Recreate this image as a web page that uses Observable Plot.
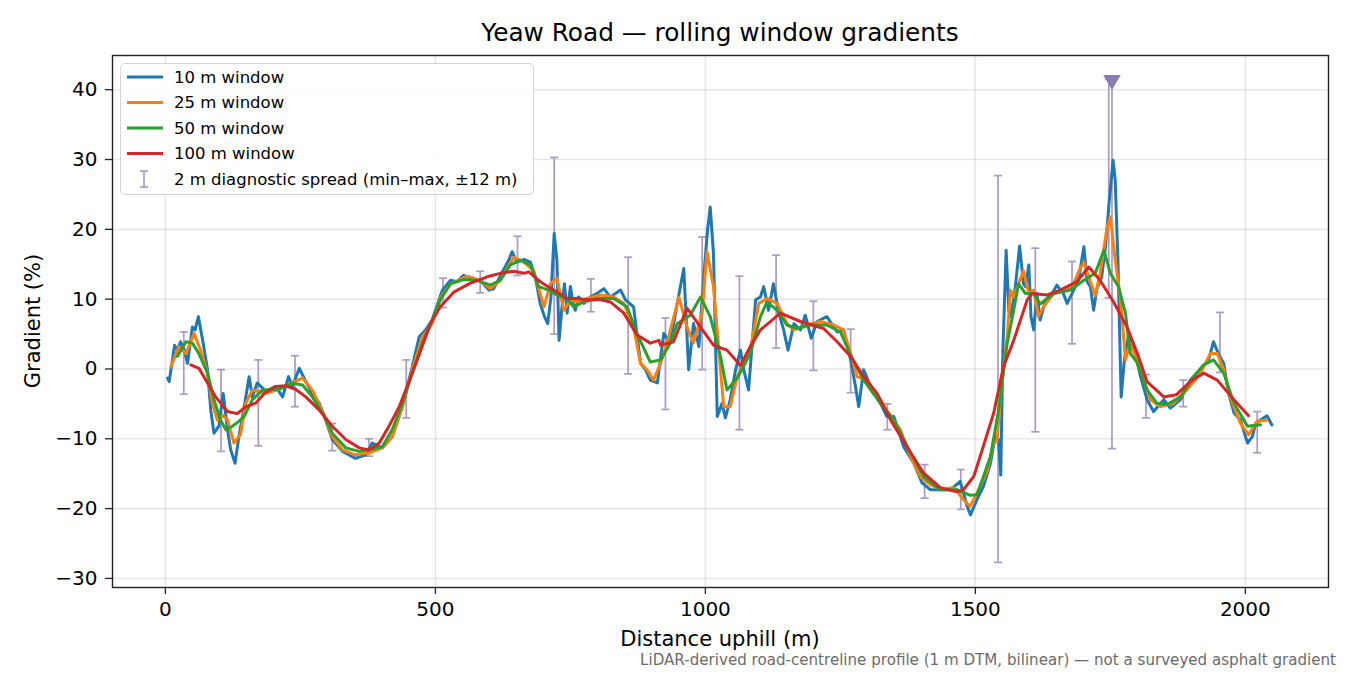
<!DOCTYPE html>
<html>
<head>
<meta charset="utf-8">
<script src="https://cdn.jsdelivr.net/npm/d3@7"></script>
<script src="https://cdn.jsdelivr.net/npm/@observablehq/plot@0.6"></script>
<style>
  html, body { margin: 0; padding: 0; background: #fff; }
  #wrap { position: relative; width: 1350px; height: 675px; font-family: "DejaVu Sans", sans-serif; color: #000; overflow: hidden; }
  #chart svg { position: absolute; left: 0; top: 0; }
  .abs { position: absolute; white-space: nowrap; }
  #title { left: 112px; width: 1216px; text-align: center; top: 19px; font-size: 24.8px; line-height: 28px; }
  #xlabel { left: 112px; width: 1216px; text-align: center; top: 627px; font-size: 21px; line-height: 24px; }
  #ylabel { left: 33px; top: 321px; font-size: 21px; line-height: 24px; transform: translate(-50%, -50%) rotate(-90deg); }
  #caption { right: 14px; top: 651px; font-size: 15.1px; line-height: 18px; color: #6b6b6b; }
  #legend { left: 120px; top: 63px; width: 412px; height: 130px; border: 1.5px solid #d4d4d4; border-radius: 5px; background: rgba(255,255,255,0.85); }
  #legend svg { position: absolute; left: 0; top: 0; }
</style>
</head>
<body>
<div id="wrap">
  <div id="chart"></div>
  <div id="title" class="abs">Yeaw Road — rolling window gradients</div>
  <div id="xlabel" class="abs">Distance uphill (m)</div>
  <div id="ylabel" class="abs">Gradient (%)</div>
  <div id="caption" class="abs">LiDAR-derived road-centreline profile (1 m DTM, bilinear) — not a surveyed asphalt gradient</div>
  <div id="legend" class="abs"></div>
</div>
<script>
// ---- data: [distance (m), gradient (%)] ----
const w10 = [[4,-1.3],[7,-1.8],[13,1.3],[17,3.4],[22,2.7],[28,3.9],[35,2.7],[41,0.8],[50,6.0],[55,5.6],[61,7.5],[69,4.1],[78,-0.1],[84,-5.9],[90,-9.2],[99,-8.2],[107,-3.5],[115,-8.7],[121,-11.6],[129,-13.5],[136,-9.7],[146,-5.4],[155,-1.1],[161,-4.0],[170,-2.0],[186,-3.2],[204,-2.5],[217,-4.0],[228,-1.1],[235,-2.5],[248,0.1],[260,-1.8],[272,-3.5],[285,-4.9],[297,-7.3],[309,-10.1],[328,-11.8],[352,-12.8],[371,-12.3],[383,-10.6],[402,-11.3],[420,-9.7],[439,-5.4],[457,0.3],[470,4.6],[482,5.6],[494,7.0],[513,11.3],[528,12.7],[540,12.5],[552,13.4],[565,13.0],[583,12.7],[599,11.3],[608,11.5],[624,13.9],[636,15.6],[642,16.8],[651,15.3],[664,15.7],[676,15.3],[685,13.2],[694,9.4],[702,7.5],[708,6.5],[714,10.3],[720,19.4],[725,15.6],[729,4.1],[735,9.4],[739,12.2],[744,8.0],[750,11.8],[755,9.4],[759,8.4],[765,10.3],[775,9.4],[787,10.3],[799,10.8],[812,11.5],[824,10.3],[843,11.3],[852,9.9],[867,8.9],[880,0.8],[889,-0.1],[898,-1.6],[911,-2.0],[923,5.1],[935,3.7],[948,9.4],[960,14.4],[969,-0.1],[978,6.5],[988,3.2],[997,13.2],[1004,19.9],[1009,23.2],[1015,16.5],[1022,-6.8],[1031,-4.9],[1037,-7.0],[1046,-4.4],[1056,-0.1],[1065,2.7],[1071,-0.1],[1080,-3.0],[1093,9.9],[1102,10.3],[1108,11.8],[1117,8.4],[1126,12.2],[1136,8.0],[1145,5.6],[1153,2.7],[1164,6.5],[1176,5.6],[1185,7.7],[1196,4.4],[1207,6.8],[1225,7.5],[1244,5.3],[1256,5.6],[1269,1.3],[1278,-2.5],[1284,-5.4],[1293,-0.1],[1306,-2.5],[1324,-4.9],[1336,-6.8],[1349,-6.8],[1367,-11.1],[1386,-13.5],[1401,-16.3],[1417,-17.3],[1435,-17.3],[1454,-17.3],[1472,-16.1],[1485,-19.7],[1491,-20.9],[1503,-18.7],[1515,-16.8],[1528,-13.5],[1537,-9.5],[1543,-10.1],[1547,-15.2],[1551,2.7],[1557,17.0],[1562,8.4],[1565,7.5],[1571,9.9],[1574,11.8],[1582,17.6],[1589,12.2],[1593,11.8],[1599,14.9],[1603,7.5],[1608,5.6],[1614,10.8],[1620,7.0],[1630,9.9],[1642,10.8],[1651,12.0],[1663,10.8],[1670,9.4],[1679,10.8],[1691,12.7],[1701,17.5],[1707,12.5],[1713,11.8],[1719,8.4],[1725,11.5],[1734,13.2],[1741,17.5],[1748,24.1],[1755,29.9],[1759,27.0],[1764,15.6],[1770,-4.0],[1776,1.3],[1784,5.1],[1793,3.2],[1806,-1.1],[1818,-4.4],[1830,-6.1],[1849,-4.4],[1861,-5.6],[1880,-4.4],[1898,-1.6],[1917,-0.1],[1932,1.3],[1941,3.9],[1950,2.2],[1960,0.8],[1969,-3.5],[1979,-6.3],[1991,-7.3],[2004,-10.6],[2013,-9.7],[2019,-7.8],[2028,-7.3],[2040,-6.7],[2049,-8.0]];

const w25 = [[10,0.3],[25,3.2],[38,2.2],[53,5.1],[65,2.7],[78,-0.6],[87,-4.9],[96,-7.3],[106,-6.6],[115,-7.3],[127,-10.6],[139,-9.4],[149,-4.9],[161,-3.0],[186,-3.5],[211,-2.9],[238,-1.8],[254,-1.3],[272,-3.0],[291,-6.1],[309,-9.7],[328,-11.6],[352,-12.3],[377,-12.0],[402,-11.3],[420,-9.7],[439,-5.4],[457,-0.1],[476,4.6],[494,6.5],[510,10.3],[528,12.2],[559,13.3],[583,12.7],[602,11.5],[620,12.7],[645,16.0],[664,15.3],[682,14.1],[701,8.9],[713,12.2],[725,13.0],[738,8.4],[750,9.9],[762,9.6],[781,10.1],[806,10.6],[830,10.3],[849,9.4],[867,6.0],[880,0.8],[892,-0.1],[904,-1.6],[917,0.8],[929,3.7],[951,10.3],[966,6.0],[978,3.7],[994,8.0],[1003,16.8],[1015,11.8],[1028,-0.1],[1034,-5.4],[1046,-5.4],[1059,-1.1],[1071,0.8],[1083,2.7],[1099,9.4],[1114,10.1],[1133,9.4],[1151,6.5],[1164,5.6],[1188,6.3],[1213,6.8],[1238,6.3],[1256,5.6],[1269,2.2],[1281,-1.1],[1299,-1.6],[1312,-3.0],[1336,-5.9],[1361,-8.7],[1380,-12.5],[1398,-15.4],[1417,-16.6],[1435,-17.2],[1460,-17.0],[1478,-18.7],[1490,-19.7],[1503,-17.8],[1522,-14.6],[1534,-10.6],[1540,-10.3],[1549,-2.0],[1559,4.6],[1565,11.3],[1571,10.3],[1580,12.2],[1589,14.1],[1599,10.8],[1608,11.3],[1617,7.5],[1626,8.9],[1645,10.8],[1670,11.3],[1682,12.2],[1694,14.4],[1701,15.3],[1713,12.5],[1722,10.5],[1731,13.7],[1744,20.3],[1750,21.8],[1759,15.6],[1769,9.9],[1778,1.3],[1787,3.7],[1799,1.3],[1812,-1.6],[1824,-4.4],[1843,-5.4],[1867,-4.9],[1892,-3.0],[1917,-0.6],[1935,2.2],[1948,2.2],[1960,-0.1],[1972,-4.0],[1991,-7.8],[2006,-9.4],[2022,-7.5],[2040,-7.3]];

const w50 = [[22,1.8],[38,3.9],[50,3.7],[62,2.2],[78,-0.6],[90,-4.4],[102,-7.3],[112,-8.7],[124,-8.2],[136,-7.5],[146,-6.8],[161,-4.4],[180,-3.0],[211,-2.9],[235,-2.0],[254,-2.3],[272,-4.0],[291,-6.3],[309,-9.2],[334,-11.3],[359,-11.8],[383,-11.5],[402,-11.1],[420,-8.7],[439,-4.9],[457,-0.6],[476,3.7],[494,7.0],[509,9.9],[528,12.2],[552,12.8],[577,12.7],[602,12.0],[620,12.7],[639,14.9],[657,15.6],[676,14.9],[691,11.8],[710,11.3],[725,10.6],[744,10.1],[756,8.9],[775,9.6],[799,10.1],[830,10.1],[855,8.9],[873,5.1],[898,1.0],[917,1.3],[935,3.7],[948,6.5],[972,7.7],[991,10.3],[1009,7.5],[1028,1.8],[1040,-3.0],[1059,-1.3],[1068,0.0],[1083,2.2],[1102,7.5],[1114,9.6],[1133,8.4],[1151,6.3],[1170,5.8],[1194,6.3],[1225,6.3],[1250,5.3],[1269,2.0],[1293,-1.6],[1324,-4.9],[1349,-7.3],[1380,-12.0],[1404,-15.4],[1435,-17.3],[1466,-17.3],[1491,-18.1],[1503,-18.0],[1515,-15.4],[1528,-12.5],[1543,-5.9],[1559,3.7],[1571,8.4],[1580,12.2],[1593,10.8],[1608,10.8],[1620,9.3],[1645,10.8],[1676,11.3],[1701,12.7],[1722,13.7],[1738,17.0],[1750,13.7],[1765,11.8],[1778,8.0],[1787,2.2],[1799,1.0],[1818,-3.0],[1836,-4.9],[1855,-5.1],[1880,-4.0],[1904,-1.1],[1923,0.6],[1941,1.3],[1960,-0.6],[1979,-4.9],[2004,-8.2],[2028,-8.0]];

const w100 = [[47,0.6],[62,0.1],[78,-2.0],[93,-4.0],[115,-6.1],[133,-6.4],[149,-5.4],[167,-4.9],[183,-3.5],[204,-2.5],[223,-2.4],[241,-2.9],[260,-4.0],[285,-5.9],[309,-8.2],[334,-10.1],[359,-11.3],[377,-11.6],[396,-10.6],[414,-8.2],[433,-5.4],[445,-3.0],[464,0.8],[482,4.6],[491,6.5],[509,8.9],[534,11.0],[565,12.3],[596,13.2],[620,13.7],[645,14.0],[664,13.7],[673,13.9],[694,12.5],[719,11.3],[744,10.1],[762,10.1],[781,9.9],[806,9.9],[824,9.6],[849,8.0],[873,4.9],[898,3.7],[914,4.1],[917,3.4],[941,3.9],[966,8.7],[991,6.0],[1015,3.4],[1040,2.7],[1065,0.5],[1083,3.2],[1102,5.6],[1139,8.0],[1176,6.8],[1219,5.8],[1244,3.9],[1269,1.8],[1293,-1.1],[1318,-3.5],[1343,-7.3],[1373,-11.1],[1404,-14.9],[1435,-17.0],[1466,-17.6],[1478,-17.3],[1497,-15.4],[1509,-12.5],[1534,-6.3],[1552,0.3],[1571,4.1],[1596,9.9],[1605,10.8],[1633,10.6],[1657,11.3],[1688,12.5],[1710,14.6],[1731,12.7],[1756,9.6],[1781,6.0],[1802,1.8],[1818,-1.8],[1849,-4.0],[1872,-3.7],[1898,-1.8],[1923,-0.6],[1948,-1.6],[1979,-4.4],[2006,-6.7]];

// 2 m diagnostic spread: [distance, min, max]
const spread = [[34,-3.6,5.3],[103,-11.8,-0.1],[172,-11.0,1.3],[240,-5.4,1.9],[309,-11.7,-7.8],[377,-12.5,-10.0],[446,-7.0,1.3],[514,8.8,13.0],[583,10.9,14.0],[652,13.4,19.0],[720,5.0,30.3],[788,8.2,12.9],[857,-0.7,16.0],[926,-5.8,7.3],[994,-0.1,18.9],[1063,-8.7,13.3],[1131,3.0,16.3],[1200,-0.2,9.7],[1269,-3.4,5.7],[1337,-8.7,-5.0],[1406,-18.5,-13.7],[1473,-20.1,-14.4],[1542,-27.7,27.7],[1611,-9.0,17.3],[1679,3.6,15.4],[1747,10.2,41.5],[1753,-11.4,41.5],[1816,-7.0,-0.8],[1885,-5.4,-1.6],[1953,-0.5,8.1],[2022,-12.0,-6.1]];
// off-scale marker
const offscale = [[1753,41.4]];

const xTicks = [0, 500, 1000, 1500, 2000];
const yTicks = [-30, -20, -10, 0, 10, 20, 30, 40];

const series = [
  {label: "10 m window", color: "#1f77b4", data: w10},
  {label: "25 m window", color: "#ff7f0e", data: w25},
  {label: "50 m window", color: "#2ca02c", data: w50},
  {label: "100 m window", color: "#d62728", data: w100}
];
const spreadLabel = "2 m diagnostic spread (min–max, ±12 m)";
const barColor = "#a99bc6";
const markColor = "#8a7bb1";

const capSymbol = { draw(ctx, size) { const r = Math.sqrt(size / Math.PI); ctx.moveTo(-r, 0); ctx.lineTo(r, 0); } };
const fmt = d3.format("d");

const chart = Plot.plot({
  width: 1350, height: 675,
  marginLeft: 112, marginRight: 22, marginTop: 55, marginBottom: 88,
  x: {domain: [-98, 2154]},
  y: {domain: [-31.3, 44.9]},
  style: {fontFamily: "DejaVu Sans", background: "transparent", color: "#000"},
  marks: [
    Plot.gridX(xTicks, {stroke: "#000", strokeOpacity: 0.09, strokeWidth: 1.6}),
    Plot.gridY(yTicks, {stroke: "#000", strokeOpacity: 0.09, strokeWidth: 1.6}),
    Plot.ruleX(spread, {x: d => d[0], y1: d => d[1], y2: d => d[2], stroke: barColor, strokeWidth: 1.7}),
    Plot.dot(spread, {x: d => d[0], y: d => d[1], symbol: capSymbol, r: 4, stroke: barColor, strokeWidth: 1.7}),
    Plot.dot(spread, {x: d => d[0], y: d => d[2], symbol: capSymbol, r: 4, stroke: barColor, strokeWidth: 1.7}),
    ...series.map(s => Plot.line(s.data, {x: d => d[0], y: d => d[1], stroke: s.color, strokeWidth: 3, strokeLinejoin: "round"})),
    Plot.dot(offscale, {x: d => d[0], y: d => d[1], symbol: "triangle", rotate: 180, r: 6.5, fill: markColor, stroke: "none"}),
    Plot.axisX(xTicks, {tickSize: 7, tickPadding: 7, fontSize: 20, tickFormat: fmt, label: null, stroke: "#222", strokeWidth: 1.3}),
    Plot.axisY(yTicks, {tickSize: 7, tickPadding: 8, fontSize: 20, tickFormat: fmt, label: null, stroke: "#222", strokeWidth: 1.3}),
    Plot.frame({stroke: "#222", strokeWidth: 1.4})
  ]
});
document.getElementById("chart").appendChild(chart);

// legend (drawn as its own small svg)
const rowY = [13, 38.5, 64, 89.5, 115];
const leg = d3.select("#legend").append("svg").attr("width", 412).attr("height", 130)
  .style("font-family", "DejaVu Sans").style("font-size", "16.5px");
series.forEach((s, i) => {
  leg.append("line").attr("x1", 6).attr("x2", 42).attr("y1", rowY[i]).attr("y2", rowY[i])
    .attr("stroke", s.color).attr("stroke-width", 3);
  leg.append("text").attr("x", 53).attr("y", rowY[i]).attr("dy", "0.36em").text(s.label);
});
const g = leg.append("g").attr("stroke", barColor).attr("stroke-width", 1.7);
g.append("line").attr("x1", 23).attr("x2", 23).attr("y1", rowY[4] - 8).attr("y2", rowY[4] + 8);
g.append("line").attr("x1", 19).attr("x2", 27).attr("y1", rowY[4] - 8).attr("y2", rowY[4] - 8);
g.append("line").attr("x1", 19).attr("x2", 27).attr("y1", rowY[4] + 8).attr("y2", rowY[4] + 8);
leg.append("text").attr("x", 53).attr("y", rowY[4]).attr("dy", "0.36em").text(spreadLabel);
</script>
</body>
</html>
